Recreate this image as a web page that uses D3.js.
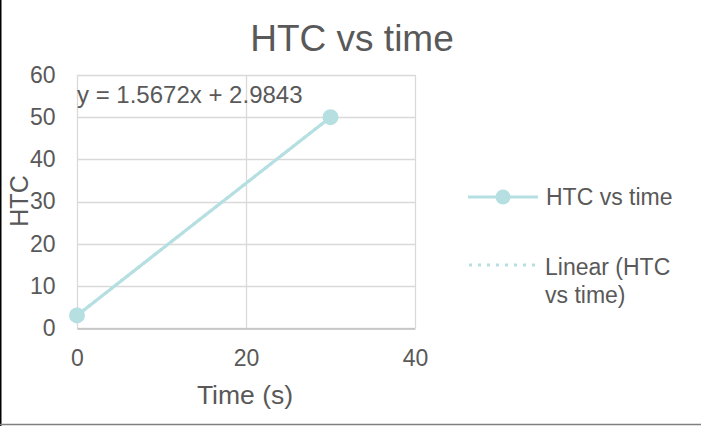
<!DOCTYPE html>
<html>
<head>
<meta charset="utf-8">
<script src="https://cdn.jsdelivr.net/npm/d3@7"></script>
<style>
  html, body { margin: 0; padding: 0; background: #fff; }
  svg { display: block; font-family: "Liberation Sans", Arial, sans-serif; }
</style>
</head>
<body>
<svg id="chart" width="701" height="426"></svg>
<script>
// Measurements: heat transfer coefficient against time
const times = [0, 30];
const htc = [2.9843, 50];

// Linear trendline fitted to the series
const trendSlope = 1.5672;
const trendIntercept = 2.9843;
const trendLabel = "y = 1.5672x + 2.9843";

const xTicks = [0, 20, 40];
const yTicks = [0, 10, 20, 30, 40, 50, 60];

const chartTitle = "HTC vs time";
const xTitle = "Time (s)";
const yTitle = "HTC";
const seriesName = "HTC vs time";
const trendName = ["Linear (HTC", "vs time)"];

const W = 701, H = 426;
const plot = { left: 77, right: 415, top: 75, bottom: 328 };
const seriesColor = "#b6dfe2";
const gridColor = "#d9d9d9";
const textColor = "#595959";
const fontFamily = "Liberation Sans, Arial, sans-serif";

const svg = d3.select("#chart");

const x = d3.scaleLinear().domain([0, 40]).range([plot.left, plot.right]);
const y = d3.scaleLinear().domain([0, 60]).range([plot.bottom, plot.top]);

// chart frame edges
svg.append("line").attr("x1", 0.75).attr("x2", 0.75).attr("y1", 0).attr("y2", H)
  .attr("stroke", "#000").attr("stroke-width", 1.5);
svg.append("line").attr("x1", 0).attr("x2", W).attr("y1", H - 1.5).attr("y2", H - 1.5)
  .attr("stroke", "#7f7f7f").attr("stroke-width", 1.5);

// gridlines
const grid = svg.append("g");
grid.selectAll("line.h").data(yTicks).join("line")
  .attr("x1", plot.left).attr("x2", plot.right)
  .attr("y1", d => Math.round(y(d)) + 0.5).attr("y2", d => Math.round(y(d)) + 0.5)
  .attr("stroke", gridColor).attr("stroke-width", 1.3);
grid.selectAll("line.v").data(xTicks).join("line")
  .attr("y1", plot.top).attr("y2", plot.bottom)
  .attr("x1", d => Math.round(x(d)) + 0.5).attr("x2", d => Math.round(x(d)) + 0.5)
  .attr("stroke", gridColor).attr("stroke-width", 1.3);

// axes
const xAxis = svg.append("g")
  .attr("transform", `translate(0,${Math.round(y(0)) + 0.5})`)
  .call(d3.axisBottom(x).tickValues(xTicks).tickSize(0).tickPadding(21));
xAxis.select(".domain").attr("stroke", "#bfbfbf").attr("stroke-width", 1.5);
xAxis.selectAll("text").attr("fill", textColor).attr("font-size", 23)
  .attr("font-family", fontFamily);

const yAxis = svg.append("g")
  .attr("transform", `translate(${Math.round(x(0)) + 0.5},0)`)
  .call(d3.axisLeft(y).tickValues(yTicks).tickSize(0).tickPadding(22));
yAxis.select(".domain").remove();
yAxis.selectAll("text").attr("fill", textColor).attr("font-size", 23)
  .attr("font-family", fontFamily);

// trendline (dotted), drawn below the series
const xDom = x.domain();
svg.append("line")
  .attr("x1", x(xDom[0])).attr("y1", y(trendSlope * xDom[0] + trendIntercept))
  .attr("x2", x(times[times.length - 1])).attr("y2", y(trendSlope * times[times.length - 1] + trendIntercept))
  .attr("stroke", seriesColor).attr("stroke-width", 3).attr("stroke-dasharray", "3,4");

// series line and markers
const pts = times.map((t, i) => [t, htc[i]]);
svg.append("path").datum(pts)
  .attr("d", d3.line().x(d => x(d[0])).y(d => y(d[1])))
  .attr("fill", "none").attr("stroke", seriesColor).attr("stroke-width", 3.2);
svg.selectAll("circle.pt").data(pts).join("circle")
  .attr("cx", d => x(d[0])).attr("cy", d => y(d[1])).attr("r", 8)
  .attr("fill", seriesColor);

// trendline equation
svg.append("text").attr("x", plot.left).attr("y", 103)
  .attr("fill", textColor).attr("font-size", 24).text(trendLabel);

// titles
svg.append("text").attr("x", 352).attr("y", 51).attr("text-anchor", "middle")
  .attr("fill", textColor).attr("font-size", 37).text(chartTitle);
svg.append("text").attr("x", 245).attr("y", 404).attr("text-anchor", "middle")
  .attr("fill", textColor).attr("font-size", 26.5).text(xTitle);
svg.append("text").attr("transform", "translate(28,201) rotate(-90)")
  .attr("text-anchor", "middle").attr("fill", textColor).attr("font-size", 25).text(yTitle);

// legend
const leg = svg.append("g");
leg.append("line").attr("x1", 468).attr("x2", 538).attr("y1", 197).attr("y2", 197)
  .attr("stroke", seriesColor).attr("stroke-width", 3.2);
leg.append("circle").attr("cx", 503).attr("cy", 197).attr("r", 7.5).attr("fill", seriesColor);
leg.append("text").attr("x", 546).attr("y", 205).attr("fill", textColor)
  .attr("font-size", 23).text(seriesName);

leg.append("line").attr("x1", 469).attr("x2", 536).attr("y1", 265).attr("y2", 265)
  .attr("stroke", seriesColor).attr("stroke-width", 3).attr("stroke-dasharray", "3,6");
leg.append("text").attr("x", 545).attr("y", 275).attr("fill", textColor)
  .attr("font-size", 23)
  .selectAll("tspan").data(trendName).join("tspan")
  .attr("x", 545).attr("dy", (d, i) => i === 0 ? 0 : 28).text(d => d);
</script>
</body>
</html>
